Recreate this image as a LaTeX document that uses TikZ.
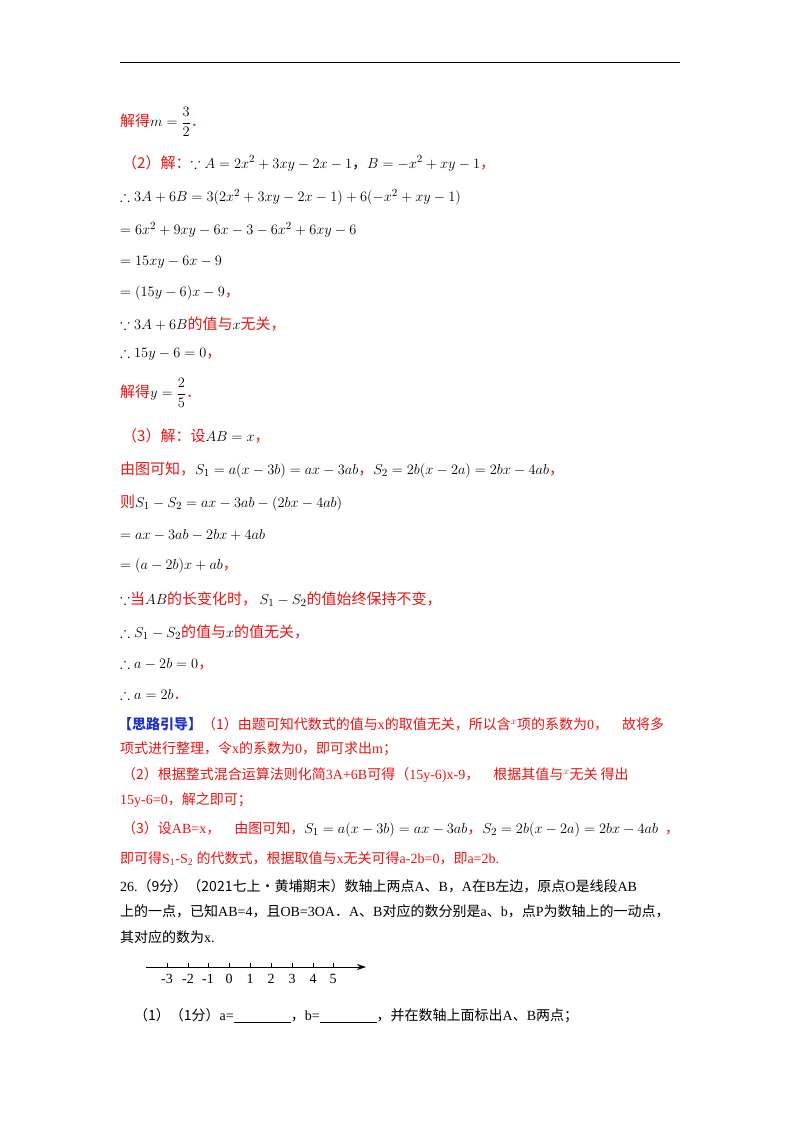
\documentclass[tikz,border=0pt]{standalone}
\usepackage{amsmath,amssymb}
\usepackage{fontspec}
\setmainfont{Liberation Serif}
\newfontfamily\cjk{Noto Sans CJK SC}
\usetikzlibrary{arrows.meta}
\definecolor{rd}{RGB}{232,20,20}
\definecolor{bl}{RGB}{30,50,200}
\newcommand{\zh}[1]{{\cjk #1}}
\newcommand{\R}[1]{\textcolor{rd}{#1}}
\begin{document}
\begin{tikzpicture}[x=1pt,y=-1pt,
  ln/.style={anchor=west,inner sep=0pt,font=\fontsize{15}{17}\selectfont},
  pn/.style={anchor=west,inner sep=0pt,font=\fontsize{14}{16}\selectfont},
  tk/.style={font=\fontsize{14}{16}\selectfont,inner sep=0pt}]
\useasboundingbox (0,0) rectangle (800,1132);
\fill[white] (0,0) rectangle (800,1132);
\draw[line width=1pt] (120,63) -- (680,63);
\node[ln] (l1) at (120,122) {\R{\zh{解得}}$m=\dfrac{3}{2}$\R{\zh{．}}};
\node[ln] (l2) at (122,163) {\R{\zh{（2）解：}}$\because A=2x^2+3xy-2x-1$\zh{，}$B=-x^2+xy-1$\R{\zh{，}}};
\node[ln] (l3) at (120,197) {$\therefore 3A+6B=3(2x^2+3xy-2x-1)+6(-x^2+xy-1)$};
\node[ln] (l4) at (120,230) {$=6x^2+9xy-6x-3-6x^2+6xy-6$};
\node[ln] (l5) at (120,262) {$=15xy-6x-9$};
\node[ln] (l6) at (120,293) {$=(15y-6)x-9$\R{\zh{，}}};
\node[ln] (l7) at (120,324) {$\because 3A+6B$\R{\zh{的值与}}$x$\R{\zh{无关，}}};
\node[ln] (l8) at (120,354) {$\therefore 15y-6=0$\R{\zh{，}}};
\node[ln] (l9) at (120,393) {\R{\zh{解得}}$y=\dfrac{2}{5}$\R{\zh{．}}};
\node[ln] (l10) at (122,436) {\R{\zh{（3）解：设}}$AB=x$\R{\zh{，}}};
\node[ln] (l11) at (120,470) {\R{\zh{由图可知，}}$S_1=a(x-3b)=ax-3ab$\R{\zh{，}}$S_2=2b(x-2a)=2bx-4ab$\R{\zh{，}}};
\node[ln] (l12) at (120,503) {\R{\zh{则}}$S_1-S_2=ax-3ab-(2bx-4ab)$};
\node[ln] (l13) at (120,535) {$=ax-3ab-2bx+4ab$};
\node[ln] (l14) at (120,566) {$=(a-2b)x+ab$\R{\zh{，}}};
\node[ln] (l15) at (120,599) {$\because$\R{\zh{当}}$AB$\R{\zh{的长变化时，}}\,$S_1-S_2$\R{\zh{的值始终保持不变，}}};
\node[ln] (l16) at (120,632) {$\therefore S_1-S_2$\R{\zh{的值与}}$x$\R{\zh{的值无关，}}};
\node[ln] (l17) at (120,664) {$\therefore a-2b=0$\R{\zh{，}}};
\node[ln] (l18) at (120,694) {$\therefore a=2b$\R{\zh{．}}};
\node[pn] (p1) at (118,724) {\textcolor{bl}{\zh{\bfseries 【思路引导】}}\R{\zh{（1）由题可知代数式的值与}x\zh{的取值无关，所以含}$^{x}$\zh{项的系数为}0\zh{，　故将多}}};
\node[pn] (p2) at (120,749) {\R{\zh{项式进行整理，令}x\zh{的系数为}0\zh{，即可求出}m\zh{；}}};
\node[pn] (p3) at (122,775) {\R{\zh{（2）根据整式混合运算法则化简}3A+6B\zh{可得（}15y-6)x-9\zh{，　根据其值与}$^{x}$\zh{无关 得出}}};
\node[pn] (p4) at (120,800) {\R{15y-6=0\zh{，解之即可；}}};
\node[pn] (p5) at (122,829) {\R{\zh{（3）设}AB=x\zh{，　由图可知，}}{\fontsize{15}{17}\selectfont$S_1=a(x-3b)=ax-3ab$\R{\zh{，}}$S_2=2b(x-2a)=2bx-4ab$}\R{\ \ \zh{，}}};
\node[pn] (p6) at (120,859) {\R{\zh{即可得}S\textsubscript{1}-S\textsubscript{2}\ \zh{的代数式，根据取值与}x\zh{无关可得}a-2b=0\zh{，即}a=2b.}};
\node[pn] (q1) at (120,886) {26.\zh{（9分）（2021七上·黄埔期末）数轴上两点}A\zh{、}B\zh{，}A\zh{在}B\zh{左边，原点}O\zh{是线段}AB};
\node[pn] (q2) at (120,911) {\zh{上的一点，已知}AB=4\zh{，且}OB=3OA\zh{．}A\zh{、}B\zh{对应的数分别是}a\zh{、}b\zh{，点}P\zh{为数轴上的一动点，}};
\node[pn] (q3) at (120,937) {\zh{其对应的数为}x.};
\coordinate (s) at (146,967);
\coordinate (e) at (366,967);
\draw[line width=1pt,-{Stealth[length=9pt,width=6pt]}] (s) -- (e);
\foreach \v/\xx in {-3/167,-2/188,-1/208,0/229,1/250,2/271,3/292,4/313,5/333}{
  \draw[line width=0.8pt] (\xx,967) -- (\xx,963);
  \node[tk] at (\xx,979) {\v};
}
\node[pn] (q4) at (134,1016) {\zh{（1）（1分）}a=\underline{\hspace{57pt}}\zh{，}b=\underline{\hspace{57pt}}\zh{，并在数轴上面标出}A\zh{、}B\zh{两点；}};
\end{tikzpicture}
\end{document}
